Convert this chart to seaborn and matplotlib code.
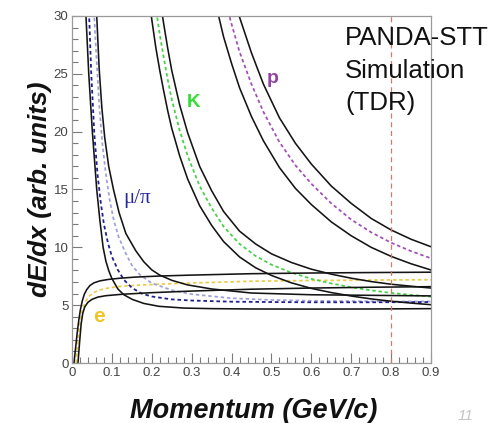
import matplotlib
matplotlib.use("Agg")
import matplotlib.pyplot as plt
from matplotlib.ticker import MultipleLocator
import seaborn as sns

# ---------------- data ----------------
# electrons
e_hi_p = [0.005, 0.009, 0.013, 0.017, 0.021, 0.026, 0.031, 0.037, 0.045, 0.055, 0.07, 0.09, 0.12, 0.16, 0.22, 0.3, 0.45, 0.6, 0.75, 0.9]
e_hi_v = [0.0, 1.3, 2.6, 3.7, 4.6, 5.4, 5.95, 6.35, 6.7, 6.93, 7.1, 7.22, 7.33, 7.43, 7.52, 7.6, 7.72, 7.78, 7.82, 7.85]
e_mid_p = [0.010, 0.014, 0.018, 0.022, 0.027, 0.034, 0.042, 0.055, 0.07, 0.09, 0.12, 0.17, 0.25, 0.35, 0.45, 0.6, 0.75, 0.9]
e_mid_v = [0.0, 1.7, 3.1, 4.0, 4.7, 5.3, 5.75, 6.1, 6.32, 6.48, 6.62, 6.74, 6.86, 6.97, 7.07, 7.13, 7.17, 7.2]
e_lo_p = [0.015, 0.019, 0.023, 0.027, 0.032, 0.04, 0.05, 0.065, 0.085, 0.125, 0.2, 0.3, 0.45, 0.6, 0.75, 0.9]
e_lo_v = [0.0, 1.8, 3.4, 4.3, 4.85, 5.25, 5.5, 5.7, 5.82, 5.94, 6.08, 6.22, 6.38, 6.48, 6.55, 6.6]

# muons / pions
mu_p = [0.040, 0.043, 0.048, 0.056, 0.064, 0.072, 0.080, 0.090, 0.100, 0.115, 0.130, 0.150, 0.175, 0.20, 0.25, 0.30, 0.40, 0.50, 0.60, 0.75, 0.90]
mu_v = [34.0, 30.0, 25.2, 19.8, 16.3, 13.9, 12.0, 10.4, 9.2, 8.05, 7.2, 6.5, 6.0, 5.75, 5.5, 5.4, 5.3, 5.27, 5.25, 5.25, 5.27]
pi_p = [0.052, 0.055, 0.060, 0.068, 0.076, 0.085, 0.095, 0.105, 0.117, 0.133, 0.150, 0.170, 0.20, 0.25, 0.30, 0.40, 0.50, 0.60, 0.75, 0.90]
pi_v = [34.0, 30.5, 27.2, 22.4, 19.0, 16.3, 14.0, 12.3, 10.9, 9.6, 8.45, 7.63, 6.9, 6.3, 5.95, 5.6, 5.45, 5.38, 5.33, 5.32]
mupi_lo_p = [0.032, 0.035, 0.042, 0.051, 0.062, 0.070, 0.078, 0.085, 0.092, 0.100, 0.115, 0.130, 0.151, 0.180, 0.218, 0.28, 0.35, 0.45, 0.60, 0.75, 0.90]
mupi_lo_v = [34.0, 30.0, 25.0, 20.0, 15.0, 12.3, 10.0, 8.8, 8.0, 7.3, 6.4, 5.9, 5.5, 5.15, 4.9, 4.75, 4.7, 4.67, 4.66, 4.67, 4.7]
mupi_hi_p = [0.058, 0.062, 0.068, 0.075, 0.082, 0.092, 0.104, 0.118, 0.135, 0.16, 0.18, 0.20, 0.22, 0.25, 0.29, 0.35, 0.45, 0.60, 0.75, 0.90]
mupi_hi_v = [34.5, 30.0, 25.5, 22.0, 19.5, 17.0, 15.0, 13.0, 11.2, 9.7, 8.75, 8.05, 7.6, 7.15, 6.75, 6.4, 6.05, 5.9, 5.85, 5.8]

# kaons
k_p = [0.19, 0.20, 0.21, 0.22, 0.23, 0.24, 0.25, 0.27, 0.29, 0.32, 0.35, 0.38, 0.42, 0.46, 0.50, 0.55, 0.60, 0.65, 0.70, 0.75, 0.80, 0.85, 0.90]
k_mid_v = [36.5, 33.4, 30.7, 28.4, 26.4, 24.5, 22.8, 20.1, 17.9, 15.3, 13.4, 11.8, 10.3, 9.26, 8.50, 7.81, 7.28, 6.88, 6.55, 6.28, 6.06, 5.89, 5.73]
k_lo_v = [32.5, 29.7, 27.3, 25.3, 23.5, 21.8, 20.3, 17.9, 15.9, 13.6, 11.9, 10.5, 9.17, 8.24, 7.57, 6.93, 6.45, 6.09, 5.79, 5.54, 5.34, 5.18, 5.04]
k_hi_v = [40.5, 37.1, 34.1, 31.5, 29.3, 27.2, 25.3, 22.3, 19.9, 17.0, 14.9, 13.1, 11.4, 10.3, 9.44, 8.69, 8.11, 7.68, 7.33, 7.04, 6.81, 6.64, 6.48]

# protons
pr_p = [0.35, 0.36, 0.38, 0.40, 0.42, 0.45, 0.48, 0.52, 0.56, 0.60, 0.65, 0.70, 0.75, 0.80, 0.85, 0.90]
pr_mid_v = [36.8, 35.1, 31.9, 29.3, 26.9, 24.1, 21.7, 19.1, 17.1, 15.5, 13.8, 12.4, 11.3, 10.4, 9.67, 9.05]
pr_lo_v = [32.6, 31.1, 28.2, 25.9, 23.8, 21.3, 19.2, 16.9, 15.1, 13.7, 12.2, 11.0, 10.0, 9.22, 8.58, 8.04]
pr_hi_v = [40.8, 39.0, 35.4, 32.5, 29.9, 26.8, 24.1, 21.2, 19.0, 17.2, 15.3, 13.8, 12.5, 11.5, 10.7, 10.05]

cut_p = 0.8
x_ticks = [0, 0.1, 0.2, 0.3, 0.4, 0.5, 0.6, 0.7, 0.8, 0.9]
x_tick_labels = ["0", "0.1", "0.2", "0.3", "0.4", "0.5", "0.6", "0.7", "0.8", "0.9"]
y_ticks = [0, 5, 10, 15, 20, 25, 30]
y_tick_labels = ["0", "5", "10", "15", "20", "25", "30"]

# ---------------- drawing ----------------
sns.set_style("ticks")
plt.rcParams['font.family'] = ['Liberation Sans', 'DejaVu Sans']

fig = plt.figure(figsize=(4.95, 4.23), dpi=100)
ax = fig.add_axes([72 / 495, 60 / 423, 359 / 495, 347 / 423])

BLACK = '#141414'
DOT = (0, (2.0, 1.6))


def curve(px, vy, color, ls='-', lw=1.15):
    sns.lineplot(x=px, y=vy, ax=ax, color=color, linestyle=ls, linewidth=lw,
                 sort=False, estimator=None, legend=False)


# dotted central curves
curve(e_mid_p, e_mid_v, '#eccb4a', DOT, 1.25)
curve(pi_p, pi_v, '#a0a0d8', DOT, 1.25)
curve(mu_p, mu_v, '#20208e', DOT, 1.3)
curve(k_p, k_mid_v, '#45d045', DOT, 1.25)
curve(pr_p, pr_mid_v, '#a24cb6', DOT, 1.25)

# black band edges
for px, vy in [(e_hi_p, e_hi_v), (e_lo_p, e_lo_v),
               (mupi_lo_p, mupi_lo_v), (mupi_hi_p, mupi_hi_v),
               (k_p, k_lo_v), (k_p, k_hi_v),
               (pr_p, pr_lo_v), (pr_p, pr_hi_v)]:
    curve(px, vy, BLACK)

ax.axvline(cut_p, color='#cf7a6a', linestyle=(0, (4, 3)), linewidth=0.9)

ax.set_xlim(0, 0.9)
ax.set_ylim(0, 30)
ax.set_xticks(x_ticks)
ax.set_xticklabels(x_tick_labels)
ax.set_yticks(y_ticks)
ax.set_yticklabels(y_tick_labels)
ax.xaxis.set_minor_locator(MultipleLocator(0.02))
ax.yaxis.set_minor_locator(MultipleLocator(1))
ax.tick_params(which='both', direction='in', color='#7a7a7a', labelcolor='#444444',
               labelsize=9.5, top=False, right=False)
ax.tick_params(which='major', length=7.5, width=0.8)
ax.tick_params(which='minor', length=4.2, width=0.8)
ax.tick_params(axis='x', pad=3)
ax.tick_params(axis='y', pad=2.5)
for s in ax.spines.values():
    s.set_visible(True)
    s.set_color('#9a9a9a')
    s.set_linewidth(0.9)
ax.set_xlabel('')
ax.set_ylabel('')

# particle labels
ax.text(0.305, 22.5, 'K', color='#33dd33', fontsize=13.5, fontweight='bold', ha='center', va='center')
ax.text(0.504, 24.6, 'p', color='#9444a6', fontsize=14, fontweight='bold', ha='center', va='center')
ax.text(0.163, 14.2, 'μ/π', color='#2828a0', fontsize=15, family=['Liberation Serif', 'DejaVu Serif'],
        ha='center', va='center')
ax.text(0.068, 4.0, 'e', color='#f0c42c', fontsize=15, fontweight='bold', ha='center', va='center')

# axis titles
fig.text(40 / 495, 1 - 189 / 423, 'dE/dx (arb. units)', rotation=90, fontsize=19,
         fontweight='bold', fontstyle='italic', ha='center', va='center', color='#111111')
fig.text(254 / 495, 1 - 411 / 423, 'Momentum (GeV/c)', fontsize=19.5,
         fontweight='bold', fontstyle='italic', ha='center', va='center', color='#111111')

# annotation block
for line, base in [('PANDA-STT', 45), ('Simulation', 77.5), ('(TDR)', 110)]:
    fig.text(345 / 495, 1 - base / 423, line, fontsize=18.5, color='#111111',
             ha='left', va='baseline')

# faint page number at the bottom-right corner
fig.text(458 / 495, 1 - 420 / 423, '11', fontsize=11, color='#c4c4c4',
         fontstyle='italic', ha='left', va='baseline')

fig.savefig('out.png', dpi=100)
